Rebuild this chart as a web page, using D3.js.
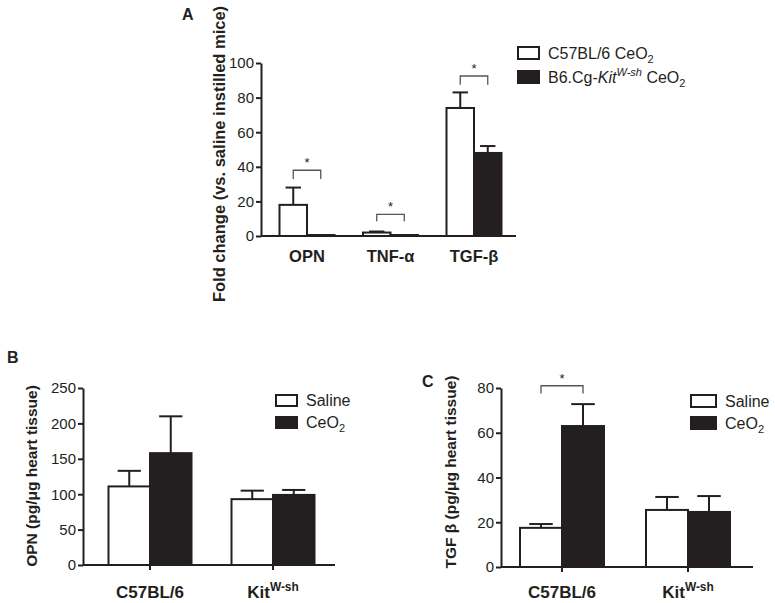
<!DOCTYPE html>
<html>
<head>
<meta charset="utf-8">
<script src="https://cdn.jsdelivr.net/npm/d3@7"></script>
<style>
  body { margin: 0; background: #fff; }
  svg { font-family: "Liberation Sans", Arial, Helvetica, sans-serif; }
</style>
</head>
<body>
<svg id="chart" width="775" height="603"></svg>
<script>
// Panel A: fold change vs. saline instilled mice
const catsA = ['OPN', 'TNF-\u03b1', 'TGF-\u03b2'];
const seriesA = ['C57BL/6 CeO2', 'B6.Cg-Kit CeO2'];
const meanA = [[18, 0.3], [2, 0.4], [74, 48]];
const errA = [[28, 0.3], [2.6, 0.5], [83, 52]];
const sigA = [[0, 38, 33], [1, 12.5, 8.5], [2, 92.5, 87.5]]; // [category idx, bracket level, leg end]
const ticksA = [0, 20, 40, 60, 80, 100];

// Panel B: OPN in heart tissue
const catsB = ['C57BL/6', 'Kit'];
const seriesBC = ['Saline', 'CeO2'];
const meanB = [[111, 158], [93, 99]];
const errB = [[133, 210], [105, 106]];
const ticksB = [0, 50, 100, 150, 200, 250];

// Panel C: TGF beta in heart tissue
const meanC = [[17.5, 63], [25.5, 24.6]];
const errC = [[19.2, 72.8], [31.3, 31.7]];
const sigC = [[0, 81, 77.5]];
const ticksC = [0, 20, 40, 60, 80];

const ink = '#231f20';
const fills = ['#ffffff', '#231f20'];
const svg = d3.select('#chart');

function panel(o) {
  const g = svg.append('g');
  const y = d3.scaleLinear().domain(o.domain).range(o.yRange);
  const x = d3.scalePoint().domain(o.cats).range(o.centers);
  const sub = d3.scaleBand().domain(o.series).range([-o.barW, o.barW]);

  // bars
  o.cats.forEach((c, i) => {
    o.series.forEach((s, j) => {
      const x0 = x(c) + sub(s);
      const bw = sub.bandwidth();
      const top = y(o.mean[i][j]);
      const base = y(0);
      // error bar (upward only)
      const cx = x0 + bw / 2;
      g.append('line').attr('x1', cx).attr('x2', cx)
        .attr('y1', top).attr('y2', y(o.err[i][j]))
        .attr('stroke', ink).attr('stroke-width', 2);
      g.append('line').attr('x1', cx - bw * 0.28).attr('x2', cx + bw * 0.28)
        .attr('y1', y(o.err[i][j])).attr('y2', y(o.err[i][j]))
        .attr('stroke', ink).attr('stroke-width', 2);
      g.append('rect')
        .attr('x', x0).attr('y', Math.min(top, base - 1))
        .attr('width', bw).attr('height', Math.max(base - top, 1))
        .attr('fill', fills[j]).attr('stroke', ink).attr('stroke-width', 2);
    });
  });

  // significance brackets
  (o.sig || []).forEach(([ci, lvl, leg]) => {
    const c = o.cats[ci];
    const bw = sub.bandwidth();
    const xa = x(c) + sub(o.series[0]) + bw / 2;
    const xb = x(c) + sub(o.series[1]) + bw / 2;
    g.append('path')
      .attr('d', `M${xa},${y(leg)}V${y(lvl)}H${xb}V${y(leg)}`)
      .attr('fill', 'none').attr('stroke', '#555').attr('stroke-width', 1.3);
    g.append('text').attr('x', (xa + xb) / 2).attr('y', y(lvl) - 3)
      .attr('text-anchor', 'middle').attr('font-size', 13).attr('fill', ink)
      .text('*');
  });

  // y axis
  const ya = g.append('g').attr('transform', `translate(${o.axisX[0]},0)`)
    .call(d3.axisLeft(y).tickValues(o.ticks).tickSize(5).tickSizeOuter(0).tickPadding(2));
  ya.select('.domain').attr('stroke', ink).attr('stroke-width', 2);
  ya.selectAll('.tick line').attr('stroke', ink).attr('stroke-width', 2);
  ya.selectAll('.tick text').attr('font-size', o.tickFont).attr('fill', ink)
    .attr('font-family', 'inherit');

  // x axis baseline
  g.append('line').attr('x1', o.axisX[0]).attr('x2', o.axisX[1])
    .attr('y1', y(0)).attr('y2', y(0)).attr('stroke', ink).attr('stroke-width', 2);
  if (o.catTicks) {
    o.cats.forEach(c => {
      g.append('line').attr('x1', x(c)).attr('x2', x(c))
        .attr('y1', y(0)).attr('y2', y(0) + 5).attr('stroke', ink).attr('stroke-width', 2);
    });
  }

  // category labels
  o.cats.forEach(c => {
    const t = g.append('text').attr('x', x(c)).attr('y', o.catY)
      .attr('text-anchor', 'middle').attr('font-weight', 'bold')
      .attr('font-size', o.catFont).attr('fill', ink);
    if (c === 'Kit') {
      t.append('tspan').text('Kit');
      t.append('tspan').attr('dy', -7).attr('font-size', o.catFont * 0.7).text('W-sh');
    } else {
      t.text(c);
    }
  });

  // y label
  g.append('text').attr('transform', `translate(${o.yLabelPos[0]},${o.yLabelPos[1]}) rotate(-90)`)
    .attr('text-anchor', 'middle').attr('font-weight', 'bold')
    .attr('font-size', o.yLabelFont).attr('fill', ink).text(o.yLabel);

  // panel letter
  g.append('text').attr('x', o.letterPos[0]).attr('y', o.letterPos[1])
    .attr('font-weight', 'bold').attr('font-size', 16).attr('fill', ink).text(o.letter);

  // legend
  o.series.forEach((s, j) => {
    const ly = o.legend.y + j * o.legend.gap;
    g.append('rect').attr('x', o.legend.x).attr('y', ly - o.legend.h)
      .attr('width', o.legend.w).attr('height', o.legend.h)
      .attr('fill', fills[j]).attr('stroke', ink).attr('stroke-width', 2);
    const t = g.append('text').attr('x', o.legend.x + o.legend.w + 9).attr('y', ly)
      .attr('font-size', 16).attr('fill', ink);
    o.legendText(t, s, j);
  });
}

function ceo2(t, prefix) {
  t.append('tspan').text(prefix + 'CeO');
  t.append('tspan').attr('dy', 4).attr('font-size', 11).text('2');
}

panel({
  cats: catsA, series: seriesA, mean: meanA, err: errA, sig: sigA,
  domain: [0, 100], yRange: [236, 63], ticks: ticksA,
  centers: [307, 474], barW: 27.5, axisX: [261, 516], catTicks: false,
  tickFont: 15, catFont: 16.5, catY: 262,
  yLabel: 'Fold change (vs. saline instilled mice)', yLabelPos: [225, 154], yLabelFont: 16.5,
  letter: 'A', letterPos: [182, 20],
  legend: { x: 518, y: 59, w: 21, h: 12, gap: 24 },
  legendText: (t, s, j) => {
    if (j === 0) {
      ceo2(t, 'C57BL/6 ');
    } else {
      t.append('tspan').text('B6.Cg-');
      t.append('tspan').attr('font-style', 'italic').text('Kit');
      t.append('tspan').attr('font-style', 'italic').attr('font-size', 11).attr('dy', -7).text('W-sh');
      t.append('tspan').attr('dy', 7).text(' CeO');
      t.append('tspan').attr('dy', 4).attr('font-size', 11).text('2');
    }
  }
});

const legendBC = (t, s, j) => {
  if (j === 0) t.text('Saline');
  else ceo2(t, '');
};

panel({
  cats: catsB, series: seriesBC, mean: meanB, err: errB,
  domain: [0, 250], yRange: [565, 388], ticks: ticksB,
  centers: [150, 273], barW: 41.5, axisX: [83, 335], catTicks: true,
  tickFont: 15, catFont: 17, catY: 598,
  yLabel: 'OPN (pg/\u03bcg heart tissue)', yLabelPos: [37, 476], yLabelFont: 15.5,
  letter: 'B', letterPos: [7, 363],
  legend: { x: 276, y: 406, w: 21, h: 11, gap: 22 },
  legendText: legendBC
});

panel({
  cats: catsB, series: seriesBC, mean: meanC, err: errC, sig: sigC,
  domain: [0, 80], yRange: [567, 388], ticks: ticksC,
  centers: [562, 688], barW: 42, axisX: [501, 753], catTicks: true,
  tickFont: 15, catFont: 17, catY: 598,
  yLabel: 'TGF \u03b2 (pg/\u03bcg heart tissue)', yLabelPos: [456, 472], yLabelFont: 15.5,
  letter: 'C', letterPos: [422, 387],
  legend: { x: 691, y: 407, w: 25, h: 12, gap: 22 },
  legendText: legendBC
});
</script>
</body>
</html>
